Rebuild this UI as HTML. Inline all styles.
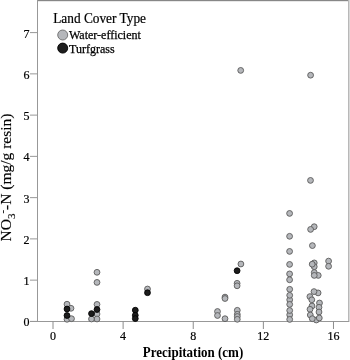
<!DOCTYPE html>
<html><head><meta charset="utf-8"><style>
html,body{margin:0;padding:0;background:#fff;}
svg{display:block;}
.t{font-family:"Liberation Serif",serif;font-size:12px;fill:#000;stroke:#000;stroke-width:0.2px;}
.lg{font-family:"Liberation Serif",serif;font-size:12px;fill:#000;stroke:#000;stroke-width:0.25px;}
.ttl{font-family:"Liberation Serif",serif;font-size:13.33px;fill:#000;stroke:#000;stroke-width:0.2px;}
.yl{font-family:"Liberation Serif",serif;font-size:15.5px;fill:#000;stroke:#000;stroke-width:0.15px;}
.ax{font-family:"Liberation Serif",serif;font-size:13px;font-weight:bold;fill:#000;}
</style></head><body>
<svg width="350" height="360" viewBox="0 0 350 360">
<rect x="0" y="0" width="350" height="360" fill="#fff"/>
<rect x="37" y="0" width="311" height="1" fill="#878787"/>
<rect x="37" y="1" width="311" height="1" fill="#e8e8e8"/>
<rect x="348" y="0" width="1" height="322" fill="#b8b8b8"/>
<rect x="349" y="0" width="1" height="322" fill="#d8d8d8"/>
<rect x="37" y="0" width="1" height="322" fill="#989898"/>
<rect x="30" y="321" width="319" height="1" fill="#989898"/>
<line x1="30" y1="321.40" x2="37.5" y2="321.40" stroke="#989898" stroke-width="1"/><text x="29.5" y="326.40" text-anchor="end" class="t">0</text><line x1="30" y1="280.14" x2="37.5" y2="280.14" stroke="#989898" stroke-width="1"/><text x="29.5" y="285.14" text-anchor="end" class="t">1</text><line x1="30" y1="238.89" x2="37.5" y2="238.89" stroke="#989898" stroke-width="1"/><text x="29.5" y="243.89" text-anchor="end" class="t">2</text><line x1="30" y1="197.63" x2="37.5" y2="197.63" stroke="#989898" stroke-width="1"/><text x="29.5" y="202.63" text-anchor="end" class="t">3</text><line x1="30" y1="156.37" x2="37.5" y2="156.37" stroke="#989898" stroke-width="1"/><text x="29.5" y="161.37" text-anchor="end" class="t">4</text><line x1="30" y1="115.11" x2="37.5" y2="115.11" stroke="#989898" stroke-width="1"/><text x="29.5" y="120.11" text-anchor="end" class="t">5</text><line x1="30" y1="73.86" x2="37.5" y2="73.86" stroke="#989898" stroke-width="1"/><text x="29.5" y="78.86" text-anchor="end" class="t">6</text><line x1="30" y1="32.60" x2="37.5" y2="32.60" stroke="#989898" stroke-width="1"/><text x="29.5" y="37.60" text-anchor="end" class="t">7</text>
<line x1="53.00" y1="321.4" x2="53.00" y2="329" stroke="#8c8c8c" stroke-width="1"/><text x="53.00" y="340.1" text-anchor="middle" class="t">0</text><line x1="123.12" y1="321.4" x2="123.12" y2="329" stroke="#8c8c8c" stroke-width="1"/><text x="123.12" y="340.1" text-anchor="middle" class="t">4</text><line x1="193.24" y1="321.4" x2="193.24" y2="329" stroke="#8c8c8c" stroke-width="1"/><text x="193.24" y="340.1" text-anchor="middle" class="t">8</text><line x1="263.36" y1="321.4" x2="263.36" y2="329" stroke="#8c8c8c" stroke-width="1"/><text x="263.36" y="340.1" text-anchor="middle" class="t">12</text><line x1="333.48" y1="321.4" x2="333.48" y2="329" stroke="#8c8c8c" stroke-width="1"/><text x="333.48" y="340.1" text-anchor="middle" class="t">16</text>
<circle cx="67" cy="304.2" r="2.9" fill="#b5b7bb" stroke="#5a5a5a" stroke-width="0.9"/><circle cx="71" cy="308.3" r="2.9" fill="#b5b7bb" stroke="#5a5a5a" stroke-width="0.9"/><circle cx="67" cy="319.3" r="2.9" fill="#b5b7bb" stroke="#5a5a5a" stroke-width="0.9"/><circle cx="71.5" cy="318.7" r="2.9" fill="#b5b7bb" stroke="#5a5a5a" stroke-width="0.9"/><circle cx="97" cy="272.3" r="2.9" fill="#b5b7bb" stroke="#5a5a5a" stroke-width="0.9"/><circle cx="97" cy="282.4" r="2.9" fill="#b5b7bb" stroke="#5a5a5a" stroke-width="0.9"/><circle cx="97" cy="304.4" r="2.9" fill="#b5b7bb" stroke="#5a5a5a" stroke-width="0.9"/><circle cx="97" cy="314" r="2.9" fill="#b5b7bb" stroke="#5a5a5a" stroke-width="0.9"/><circle cx="97" cy="319" r="2.9" fill="#b5b7bb" stroke="#5a5a5a" stroke-width="0.9"/><circle cx="91.5" cy="319" r="2.9" fill="#b5b7bb" stroke="#5a5a5a" stroke-width="0.9"/><circle cx="147.5" cy="289" r="2.9" fill="#b5b7bb" stroke="#5a5a5a" stroke-width="0.9"/><circle cx="240.9" cy="264" r="2.9" fill="#b5b7bb" stroke="#5a5a5a" stroke-width="0.9"/><circle cx="237.1" cy="283.3" r="2.9" fill="#b5b7bb" stroke="#5a5a5a" stroke-width="0.9"/><circle cx="237.1" cy="285.8" r="2.9" fill="#b5b7bb" stroke="#5a5a5a" stroke-width="0.9"/><circle cx="225" cy="297.1" r="2.9" fill="#b5b7bb" stroke="#5a5a5a" stroke-width="0.9"/><circle cx="225" cy="298.5" r="2.9" fill="#b5b7bb" stroke="#5a5a5a" stroke-width="0.9"/><circle cx="217.5" cy="311.5" r="2.9" fill="#b5b7bb" stroke="#5a5a5a" stroke-width="0.9"/><circle cx="217.5" cy="315.5" r="2.9" fill="#b5b7bb" stroke="#5a5a5a" stroke-width="0.9"/><circle cx="225" cy="318.7" r="2.9" fill="#b5b7bb" stroke="#5a5a5a" stroke-width="0.9"/><circle cx="237.3" cy="310.3" r="2.9" fill="#b5b7bb" stroke="#5a5a5a" stroke-width="0.9"/><circle cx="237.3" cy="314.3" r="2.9" fill="#b5b7bb" stroke="#5a5a5a" stroke-width="0.9"/><circle cx="237.3" cy="316.5" r="2.9" fill="#b5b7bb" stroke="#5a5a5a" stroke-width="0.9"/><circle cx="237.3" cy="319.3" r="2.9" fill="#b5b7bb" stroke="#5a5a5a" stroke-width="0.9"/><circle cx="240.7" cy="70.4" r="2.9" fill="#b5b7bb" stroke="#5a5a5a" stroke-width="0.9"/><circle cx="289.6" cy="213.4" r="2.9" fill="#b5b7bb" stroke="#5a5a5a" stroke-width="0.9"/><circle cx="289.6" cy="236.3" r="2.9" fill="#b5b7bb" stroke="#5a5a5a" stroke-width="0.9"/><circle cx="289.6" cy="251.4" r="2.9" fill="#b5b7bb" stroke="#5a5a5a" stroke-width="0.9"/><circle cx="289.6" cy="264.4" r="2.9" fill="#b5b7bb" stroke="#5a5a5a" stroke-width="0.9"/><circle cx="289.6" cy="273.9" r="2.9" fill="#b5b7bb" stroke="#5a5a5a" stroke-width="0.9"/><circle cx="289.6" cy="279.8" r="2.9" fill="#b5b7bb" stroke="#5a5a5a" stroke-width="0.9"/><circle cx="289.7" cy="299.8" r="2.9" fill="#b5b7bb" stroke="#5a5a5a" stroke-width="0.9"/><circle cx="289.7" cy="314.8" r="2.9" fill="#b5b7bb" stroke="#5a5a5a" stroke-width="0.9"/><circle cx="289.7" cy="289.3" r="2.9" fill="#b5b7bb" stroke="#5a5a5a" stroke-width="0.9"/><circle cx="289.7" cy="295.3" r="2.9" fill="#b5b7bb" stroke="#5a5a5a" stroke-width="0.9"/><circle cx="289.7" cy="304.4" r="2.9" fill="#b5b7bb" stroke="#5a5a5a" stroke-width="0.9"/><circle cx="289.7" cy="310.5" r="2.9" fill="#b5b7bb" stroke="#5a5a5a" stroke-width="0.9"/><circle cx="289.7" cy="319.4" r="2.9" fill="#b5b7bb" stroke="#5a5a5a" stroke-width="0.9"/><circle cx="310.6" cy="75.2" r="2.9" fill="#b5b7bb" stroke="#5a5a5a" stroke-width="0.9"/><circle cx="310.5" cy="180.4" r="2.9" fill="#b5b7bb" stroke="#5a5a5a" stroke-width="0.9"/><circle cx="314.2" cy="226.7" r="2.9" fill="#b5b7bb" stroke="#5a5a5a" stroke-width="0.9"/><circle cx="310.6" cy="229.4" r="2.9" fill="#b5b7bb" stroke="#5a5a5a" stroke-width="0.9"/><circle cx="312.4" cy="245.6" r="2.9" fill="#b5b7bb" stroke="#5a5a5a" stroke-width="0.9"/><circle cx="314.25" cy="262.9" r="2.9" fill="#b5b7bb" stroke="#5a5a5a" stroke-width="0.9"/><circle cx="314.25" cy="266.7" r="2.9" fill="#b5b7bb" stroke="#5a5a5a" stroke-width="0.9"/><circle cx="312.2" cy="264.2" r="2.9" fill="#b5b7bb" stroke="#5a5a5a" stroke-width="0.9"/><circle cx="314.25" cy="272.5" r="2.9" fill="#b5b7bb" stroke="#5a5a5a" stroke-width="0.9"/><circle cx="318.25" cy="275.4" r="2.9" fill="#b5b7bb" stroke="#5a5a5a" stroke-width="0.9"/><circle cx="314.25" cy="275.4" r="2.9" fill="#b5b7bb" stroke="#5a5a5a" stroke-width="0.9"/><circle cx="318.1" cy="292.9" r="2.9" fill="#b5b7bb" stroke="#5a5a5a" stroke-width="0.9"/><circle cx="314" cy="291.6" r="2.9" fill="#b5b7bb" stroke="#5a5a5a" stroke-width="0.9"/><circle cx="309.9" cy="296.6" r="2.9" fill="#b5b7bb" stroke="#5a5a5a" stroke-width="0.9"/><circle cx="311.8" cy="299.8" r="2.9" fill="#b5b7bb" stroke="#5a5a5a" stroke-width="0.9"/><circle cx="319.5" cy="303" r="2.9" fill="#b5b7bb" stroke="#5a5a5a" stroke-width="0.9"/><circle cx="312" cy="306" r="2.9" fill="#b5b7bb" stroke="#5a5a5a" stroke-width="0.9"/><circle cx="310" cy="309.3" r="2.9" fill="#b5b7bb" stroke="#5a5a5a" stroke-width="0.9"/><circle cx="319" cy="307.3" r="2.9" fill="#b5b7bb" stroke="#5a5a5a" stroke-width="0.9"/><circle cx="319" cy="312" r="2.9" fill="#b5b7bb" stroke="#5a5a5a" stroke-width="0.9"/><circle cx="310.3" cy="315" r="2.9" fill="#b5b7bb" stroke="#5a5a5a" stroke-width="0.9"/><circle cx="316.3" cy="320" r="2.9" fill="#b5b7bb" stroke="#5a5a5a" stroke-width="0.9"/><circle cx="319.3" cy="318" r="2.9" fill="#b5b7bb" stroke="#5a5a5a" stroke-width="0.9"/><circle cx="312.3" cy="318.7" r="2.9" fill="#b5b7bb" stroke="#5a5a5a" stroke-width="0.9"/><circle cx="328.6" cy="261.1" r="2.9" fill="#b5b7bb" stroke="#5a5a5a" stroke-width="0.9"/><circle cx="328.6" cy="266.3" r="2.9" fill="#b5b7bb" stroke="#5a5a5a" stroke-width="0.9"/><circle cx="67" cy="309" r="2.9" fill="#1c1c1c" stroke="#000" stroke-width="0.9"/><circle cx="67" cy="315.5" r="2.9" fill="#1c1c1c" stroke="#000" stroke-width="0.9"/><circle cx="97" cy="309.5" r="2.9" fill="#1c1c1c" stroke="#000" stroke-width="0.9"/><circle cx="91.5" cy="313.6" r="2.9" fill="#1c1c1c" stroke="#000" stroke-width="0.9"/><circle cx="135.3" cy="310.2" r="2.9" fill="#1c1c1c" stroke="#000" stroke-width="0.9"/><circle cx="135.3" cy="315.3" r="2.9" fill="#1c1c1c" stroke="#000" stroke-width="0.9"/><circle cx="135.3" cy="318.6" r="2.9" fill="#1c1c1c" stroke="#000" stroke-width="0.9"/><circle cx="147.5" cy="292.7" r="2.9" fill="#1c1c1c" stroke="#000" stroke-width="0.9"/><circle cx="237.1" cy="270.7" r="2.9" fill="#1c1c1c" stroke="#000" stroke-width="0.9"/>
<text transform="translate(53.2,22.6) scale(1,1.07)" class="ttl">Land Cover Type</text>
<circle cx="62.7" cy="35" r="5" fill="#b5b7bb" stroke="#606060" stroke-width="0.8"/>
<circle cx="62.7" cy="48.1" r="5" fill="#1e1e1e" stroke="#000" stroke-width="0.9"/>
<text x="69" y="39.2" class="lg">Water-efficient</text>
<text x="69" y="52.9" class="lg">Turfgrass</text>
<text transform="translate(193,357.2) scale(1,1.12)" text-anchor="middle" class="ax">Precipitation (cm)</text>
<text transform="translate(10.5,241.5) rotate(-90)" class="yl">NO<tspan font-size="11" dy="4">3</tspan><tspan font-size="11" dy="-8.5">-</tspan><tspan dy="4.5">-N (mg/g resin)</tspan></text>
</svg>
</body></html>
